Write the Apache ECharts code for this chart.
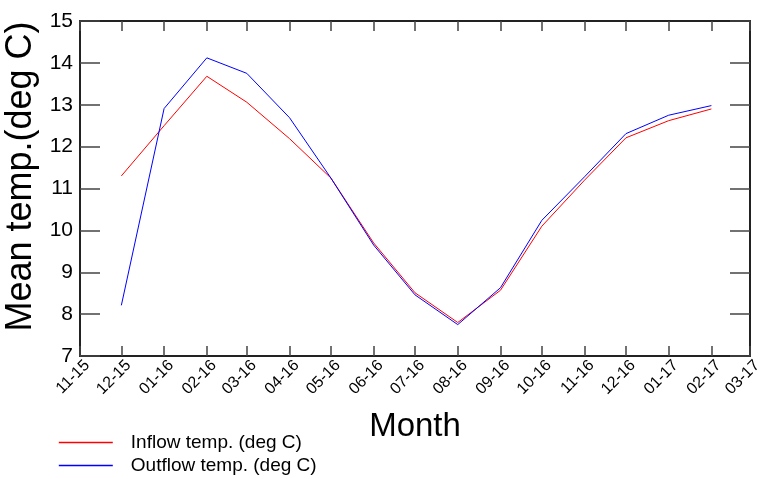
<!DOCTYPE html>
<html>
<head>
<meta charset="utf-8">
<script src="https://cdn.jsdelivr.net/npm/echarts@6/dist/echarts.min.js"></script>
<style>
html,body{margin:0;padding:0;background:#fff;}
#chart{width:760px;height:479px;}
</style>
</head>
<body>
<div id="chart"></div>
<script>
var months = ['2015-12-01','2016-01-01','2016-02-01','2016-03-01','2016-04-01','2016-05-01','2016-06-01','2016-07-01','2016-08-01','2016-09-01','2016-10-01','2016-11-01','2016-12-01','2017-01-01','2017-02-01'];
var inflow  = [11.30, 12.50, 13.68, 13.06, 12.19, 11.25, 9.70, 8.51, 7.80, 8.57, 10.10, 11.20, 12.21, 12.62, 12.90];
var outflow = [8.21, 12.91, 14.12, 13.75, 12.69, 11.25, 9.65, 8.46, 7.75, 8.63, 10.24, 11.28, 12.31, 12.75, 12.98];
var seriesNames = ['Inflow temp. (deg C)', 'Outflow temp. (deg C)'];
var seriesColors = ['#ff0000', '#0000ff'];
var axisStart = '2015-11-01';
var axisEnd = '2017-03-01';
var yMin = 7, yMax = 15, yStep = 1;

function pairs(vals){ return months.map(function(m,i){ return [m, vals[i]]; }); }

var FONT = 'Liberation Sans, Arial, sans-serif';
var frame = {show:true, lineStyle:{color:'#222', width:2}};
var tickStyle = {color:'#444', width:1.5};
var DAY = 24*3600*1000;

function legendFor(i, top){
  return {
    orient:'vertical', left:58, top:top, padding:0,
    itemWidth:54, itemHeight:14,
    itemStyle:{opacity:0},
    lineStyle:{width:1.6, color:seriesColors[i], opacity:1},
    textStyle:{fontFamily:FONT, fontSize:19, color:'#000', padding:[0,0,0,13]},
    data:[seriesNames[i]]
  };
}

var chart = echarts.init(document.getElementById('chart'));
chart.setOption({
  animation:false,
  backgroundColor:'#fff',
  color:seriesColors,
  textStyle:{fontFamily:FONT},
  grid:{left:80, right:10, top:21, bottom:123, containLabel:false, outerBoundsMode:'none'},
  legend:[legendFor(0, 433), legendFor(1, 456)],
  xAxis:[{
    type:'time', min:axisStart, max:axisEnd, splitNumber:16,
    minInterval:28*DAY, maxInterval:31*DAY,
    name:'Month', nameLocation:'middle', nameGap:54,
    nameTextStyle:{fontFamily:FONT, fontSize:33, color:'#000'},
    axisLine:frame,
    axisTick:{show:true, inside:true, length:10, lineStyle:tickStyle},
    axisLabel:{rotate:45, margin:14, fontSize:16, color:'#000', fontFamily:FONT,
      padding:[0,-10,0,0],
      formatter:'{MM}-{yy}', hideOverlap:false, showMinLabel:true, showMaxLabel:true},
    splitLine:{show:false}
  },{
    type:'time', min:axisStart, max:axisEnd, splitNumber:16, position:'top',
    minInterval:28*DAY, maxInterval:31*DAY,
    axisLine:frame,
    axisTick:{show:true, inside:true, length:10, lineStyle:tickStyle},
    axisLabel:{show:false}, splitLine:{show:false}
  }],
  yAxis:[{
    type:'value', min:yMin, max:yMax, interval:yStep,
    name:'Mean temp.(deg C)', nameLocation:'middle', nameGap:36, nameRotate:90,
    nameTextStyle:{fontFamily:FONT, fontSize:36, color:'#000', padding:[0,0,0,24]},
    axisLine:frame,
    axisTick:{show:true, inside:true, length:20, lineStyle:tickStyle},
    axisLabel:{margin:7, fontSize:21, color:'#000', fontFamily:FONT},
    splitLine:{show:false}
  },{
    type:'value', min:yMin, max:yMax, interval:yStep, position:'right',
    axisLine:frame,
    axisTick:{show:true, inside:true, length:20, lineStyle:tickStyle},
    axisLabel:{show:false}, splitLine:{show:false}
  }],
  series:[{
    name:seriesNames[0], type:'line', data:pairs(inflow), showSymbol:false, symbol:'none',
    lineStyle:{color:seriesColors[0], width:1}, itemStyle:{color:seriesColors[0]}
  },{
    name:seriesNames[1], type:'line', data:pairs(outflow), showSymbol:false, symbol:'none',
    lineStyle:{color:seriesColors[1], width:1}, itemStyle:{color:seriesColors[1]}
  }]
});
</script>
</body>
</html>
